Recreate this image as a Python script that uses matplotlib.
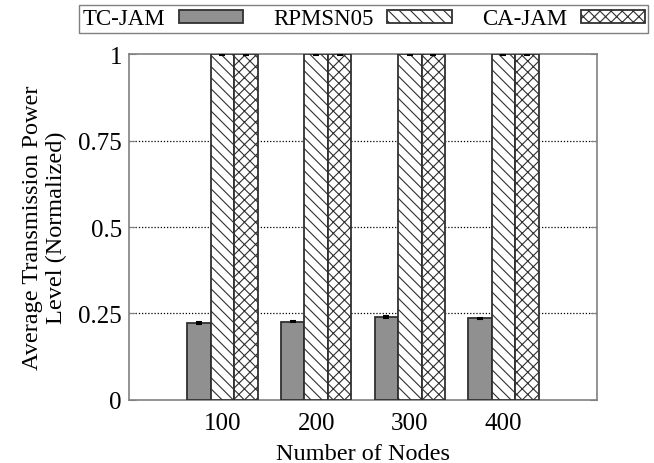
import matplotlib
matplotlib.use("Agg")
import matplotlib.pyplot as plt
import numpy as np

plt.rcParams['font.family'] = ['Liberation Serif', 'DejaVu Serif']
plt.rcParams['hatch.linewidth'] = 0.8
plt.rcParams['hatch.color'] = '#404040'

nodes = [100, 200, 300, 400]
tc_jam = [0.222, 0.226, 0.240, 0.236]
rpmsn05 = [1.0, 1.0, 1.0, 1.0]
ca_jam = [1.0, 1.0, 1.0, 1.0]
tc_err = [0.002, 0.002, 0.002, 0.002]
rp_err = [0.002, 0.002, 0.002, 0.002]
ca_err = [0.002, 0.002, 0.002, 0.002]

fig = plt.figure(figsize=(6.54, 4.64), dpi=100)
ax = fig.add_axes([0.197, 0.136, 0.716, 0.745])

x = np.array(nodes)
w = 25
edge = '#303030'
err_kw = dict(ecolor='black', elinewidth=1.2, capsize=2.5, capthick=1.5)
ax.bar(x - w, tc_jam, w, yerr=tc_err, color='#909090', edgecolor=edge,
       linewidth=1.3, label='TC-JAM', error_kw=err_kw, zorder=3)
ax.bar(x, rpmsn05, w, yerr=rp_err, color='white', edgecolor=edge,
       hatch='\\\\\\', linewidth=1.3, label='RPMSN05', error_kw=err_kw, zorder=3)
ax.bar(x + w, ca_jam, w, yerr=ca_err, color='white', edgecolor=edge,
       hatch='xxx', linewidth=1.3, label='CA-JAM', error_kw=err_kw, zorder=3)

ax.set_xlim(0, 500)
ax.set_ylim(0, 1)
ax.set_xticks(nodes)
ax.set_yticks([0, 0.25, 0.5, 0.75, 1])
ax.set_yticklabels(['0', '0.25', '0.5', '0.75', '1'])
ax.tick_params(axis='y', direction='in', length=5, right=True, labelsize=18,
               color='#808080', pad=5)
ax.tick_params(axis='x', length=0, labelsize=18, pad=9)
for s in ax.spines.values():
    s.set_color('#808080')
    s.set_linewidth(1.2)

for yv in [0.25, 0.5, 0.75]:
    ax.axhline(yv, color='black', linestyle=(0, (1, 1.5)), linewidth=0.9, zorder=1)

ax.set_xlabel('Number of Nodes', fontsize=17.5, labelpad=6)
ax.set_ylabel('Average Transmission Power\nLevel (Normalized)', fontsize=17.5,
              labelpad=8, linespacing=1.2)

leg = fig.legend(loc='upper left', bbox_to_anchor=(0.121, 0.935, 0.870, 0.052),
                 mode='expand', ncol=3, markerfirst=False, fontsize=16.5,
                 frameon=True, fancybox=False, edgecolor='#606060',
                 handlelength=2.8, handleheight=0.5, borderaxespad=0,
                 borderpad=0.15, columnspacing=1.0, handletextpad=0.6)
leg.get_frame().set_linewidth(1.0)

fig.savefig('out.png', dpi=100)
